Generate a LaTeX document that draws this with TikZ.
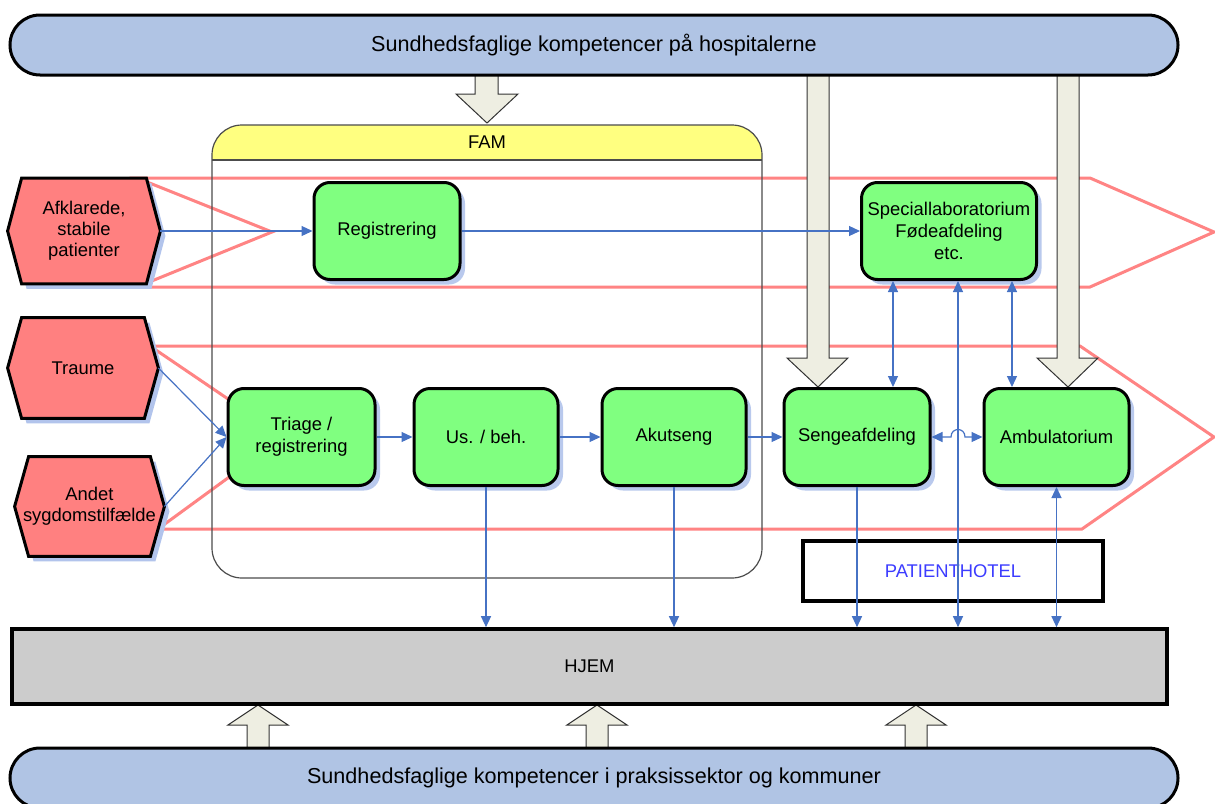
\documentclass[tikz,border=0pt]{standalone}
\usepackage{fontspec}
\setmainfont{Liberation Sans}
\usetikzlibrary{arrows.meta,shadows,calc}
\definecolor{bannerc}{RGB}{176,196,228}
\definecolor{greenc}{RGB}{128,255,128}
\definecolor{redc}{RGB}{255,128,128}
\definecolor{chevc}{RGB}{255,132,132}
\definecolor{bluec}{RGB}{70,114,196}
\definecolor{shadowc}{RGB}{178,196,236}
\definecolor{yellowc}{RGB}{255,255,128}
\definecolor{hjemc}{RGB}{204,204,204}
\definecolor{blockc}{RGB}{238,238,226}
\definecolor{hotelc}{RGB}{60,60,255}
\pgfdeclarelayer{back}\pgfdeclarelayer{mid}\pgfsetlayers{back,mid,main}
\tikzset{
  banner/.style={draw=black, line width=1.5pt, fill=bannerc, rounded corners=15pt,
    minimum width=584pt, minimum height=30pt, inner sep=0,
    font=\fontsize{10.8}{13}\selectfont},
  gbox/.style={draw=black, line width=1.5pt, fill=greenc, rounded corners=8pt,
    minimum height=48.5pt, align=center, inner sep=0,
    font=\fontsize{9.2}{11}\selectfont,
    drop shadow={shadow xshift=2.5pt, shadow yshift=-2.5pt, fill=shadowc, opacity=0.9}},
  hexn/.style={inner sep=0, align=center, font=\fontsize{9.2}{10.6}\selectfont},
  chev/.style={draw=chevc, line width=1.5pt, line join=miter},
  conn/.style={draw=bluec, line width=0.6pt, -{Triangle[length=5.5pt,width=5pt]}},
  conn2/.style={draw=bluec, line width=0.6pt, {Triangle[length=5.5pt,width=5pt]}-{Triangle[length=5.5pt,width=5pt]}},
  block/.style={draw=black!80, line width=0.5pt, fill=blockc, line join=miter},
  lbl/.style={font=\fontsize{9.2}{11}\selectfont},
}
\newcommand\hexshape[2]{%
\begin{pgfonlayer}{mid}
\fill[shadowc] ([shift={(2.5pt,-2.5pt)}]#1.west) -- ([shift={(#2+2.5pt,-2.5pt)}]#1.north west) -- ([shift={(-#2+2.5pt,-2.5pt)}]#1.north east) -- ([shift={(2.5pt,-2.5pt)}]#1.east) -- ([shift={(-#2+2.5pt,-2.5pt)}]#1.south east) -- ([shift={(#2+2.5pt,-2.5pt)}]#1.south west) -- cycle;
\draw[line width=1.5pt, fill=redc, line join=miter] (#1.west) -- ([xshift=#2]#1.north west) -- ([xshift=-#2]#1.north east) -- (#1.east) -- ([xshift=-#2]#1.south east) -- ([xshift=#2]#1.south west) -- cycle;
\end{pgfonlayer}}
\begin{document}
\begin{tikzpicture}[x=0.5pt,y=-0.5pt]
\useasboundingbox (0,0) rectangle (1215,803);
\begin{pgfonlayer}{back}
\fill[white] (0,0) rectangle (1215,803);
\draw[chev] (137,178) -- (1090,178) -- (1214,232) -- (1090,287) -- (137,287) -- (272,232) -- cycle;
\draw[chev] (150,346) -- (1080,346) -- (1214,437) -- (1082,529) -- (158,529) -- (284,437) -- cycle;
\end{pgfonlayer}

% FAM container
\node[draw=black!70, line width=0.6pt, rounded corners=15pt, minimum width=275pt,
  minimum height=226.5pt, inner sep=0,
  path picture={\fill[yellowc, sharp corners] (path picture bounding box.north west) rectangle ([yshift=-17.5pt]path picture bounding box.north east);
  \draw[black!70, line width=0.6pt, sharp corners] ([yshift=-17.5pt]path picture bounding box.north west) -- ([yshift=-17.5pt]path picture bounding box.north east);}]
  (fam) at (487,351.5) {};
\node[lbl] (famlbl) at (487,142) {FAM};

% block arrows
\draw[block] (475,70) -- (475,94) -- (456,94) -- (487,123) -- (518,94) -- (498,94) -- (498,70) -- cycle;
\draw[block] (807,70) -- (807,358) -- (787,358) -- (818,387) -- (848,358) -- (829,358) -- (829,70) -- cycle;
\draw[block] (1057,70) -- (1057,358) -- (1037,358) -- (1068,387) -- (1098,358) -- (1079,358) -- (1079,70) -- cycle;
\foreach \c in {258,597,916}{
  \draw[block] (\c-11,752) -- (\c-11,725) -- (\c-30,725) -- (\c,705) -- (\c+30,725) -- (\c+11,725) -- (\c+11,752) -- cycle;}

% banners and bars
\node[banner] (top) at (594,45) {Sundhedsfaglige kompetencer på hospitalerne};
\node[banner] (bot) at (594,778) {Sundhedsfaglige kompetencer i praksissektor og kommuner};
\node[draw=black, line width=1.8pt, fill=hjemc, minimum width=577.5pt, minimum height=37.5pt,
  inner sep=0, lbl] (hjem) at (589.5,666.5) {HJEM};
\node[draw=black, line width=2pt, fill=white, minimum width=150pt, minimum height=30pt,
  inner sep=0, lbl, text=hotelc] (hotel) at (953,571) {PATIENTHOTEL};

% hexagons
\node[hexn, minimum width=76pt, minimum height=52.5pt] (afk) at (84,231) {Afklarede,\\stabile\\patienter};
\node[hexn, minimum width=75pt, minimum height=50pt] (trm) at (83,368) {Traume};
\node[hexn, minimum width=74.5pt, minimum height=49.5pt] (and) at (89.5,506.5) {Andet\\sygdomstilfælde};
\hexshape{afk}{7pt}
\hexshape{trm}{7pt}
\hexshape{and}{7pt}

% green boxes
\node[gbox, minimum width=73pt] (reg) at (387,231) {Registrering};
\node[gbox, minimum width=87.5pt] (spec) at (949,231) {Speciallaboratorium\\Fødeafdeling\\etc.};
\node[gbox, minimum width=73.5pt] (tri) at (301.5,437) {Triage /\\registrering};
\node[gbox, minimum width=72pt] (usb) at (486,437) {Us. / beh.};
\node[gbox, minimum width=72pt] (aku) at (674,437) {Akutseng};
\node[gbox, minimum width=73pt] (sen) at (857,437) {Sengeafdeling};
\node[gbox, minimum width=72.5pt] (amb) at (1056.5,437) {Ambulatorium};

% connectors
\coordinate (xa) at (893,0);
\coordinate (xb) at (1012,0);
\coordinate (xc) at (958,0);
\draw[conn] (afk.east) -- (reg.west);
\draw[conn] (reg.east) -- (spec.west);
\draw[conn] (trm.east) -- (tri.west);
\draw[conn] (and.east) -- (tri.west);
\draw[conn] (tri.east) -- (usb.west);
\draw[conn] (usb.east) -- (aku.west);
\draw[conn] (aku.east) -- (sen.west);
\draw[conn2] (sen.east) -- (951,437) .. controls (951,427) and (965,427) .. (965,437) -- (amb.west);
\draw[conn2] (spec.south -| xa) -- (sen.north -| xa);
\draw[conn2] (spec.south -| xb) -- (amb.north -| xb);
\draw[conn2] (spec.south -| xc) -- (hjem.north -| xc);
\draw[conn] (usb.south) -- (usb.south |- hjem.north);
\draw[conn] (aku.south) -- (aku.south |- hjem.north);
\draw[conn] (sen.south) -- (sen.south |- hjem.north);
\draw[conn2] (amb.south) -- (amb.south |- hjem.north);
\end{tikzpicture}
\end{document}
